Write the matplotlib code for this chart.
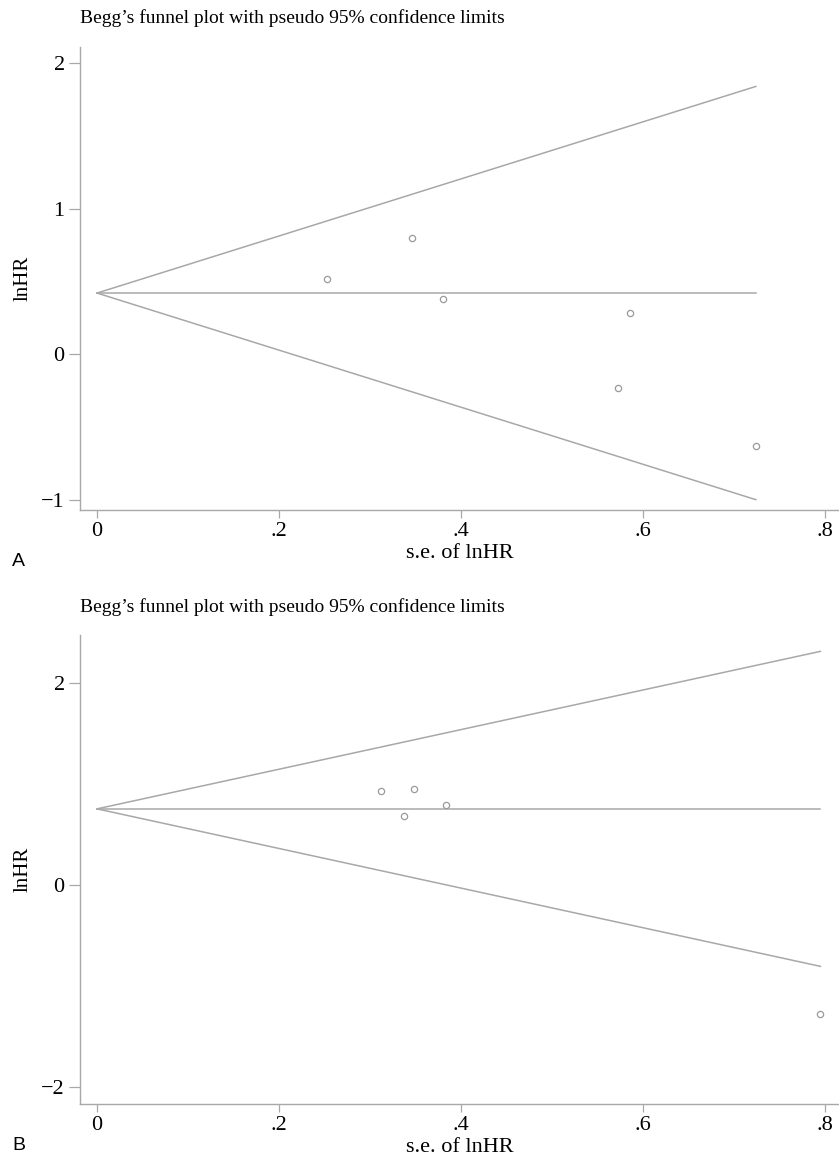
import matplotlib
matplotlib.use("Agg")
import matplotlib.pyplot as plt

# Panel A: study estimates (s.e. of lnHR, lnHR) and pooled lnHR
se_a = [0.253, 0.346, 0.380, 0.586, 0.573, 0.724]
lnhr_a = [0.52, 0.80, 0.38, 0.28, -0.23, -0.63]
pooled_a = 0.42

# Panel B
se_b = [0.312, 0.337, 0.348, 0.384, 0.795]
lnhr_b = [0.93, 0.68, 0.95, 0.79, -1.28]
pooled_b = 0.75

z = 1.96
xticks = [0, 0.2, 0.4, 0.6, 0.8]
xticklabels = ["0", ".2", ".4", ".6", ".8"]
yticks_a = [-1, 0, 1, 2]
yticks_b = [-2, 0, 2]

title = "Begg\u2019s funnel plot with pseudo 95% confidence limits"

W, H = 839, 1158
GRAY = "#a8a8a8"
MARK = "#9a9a9a"

plt.rcParams["font.family"] = ["Liberation Serif", "DejaVu Serif"]


def funnel(ax, se, lnhr, pooled, yticks, ylim):
    smax = max(se)
    # pseudo 95% limits and pooled estimate
    ax.plot([0, smax], [pooled, pooled + z * smax], color=GRAY, lw=1.1)
    ax.plot([0, smax], [pooled, pooled - z * smax], color=GRAY, lw=1.1)
    ax.plot([0, smax], [pooled, pooled], color=GRAY, lw=1.1)
    ax.plot(se, lnhr, "o", ms=4.5, mfc="none", mec=MARK, mew=0.9)

    ax.set_xlim(-0.0187, 0.8154)
    ax.set_ylim(*ylim)
    ax.set_xticks(xticks)
    ax.set_xticklabels(xticklabels)
    ax.set_yticks(yticks)
    ax.set_yticklabels([str(t).replace("-", "\u2212") for t in yticks])

    for side in ("top", "right"):
        ax.spines[side].set_visible(False)
    for side in ("left", "bottom"):
        ax.spines[side].set_color(GRAY)
        ax.spines[side].set_linewidth(1.0)

    ax.tick_params(axis="y", length=8, width=0.9, color=GRAY, pad=3,
                   labelsize=16, labelcolor="black")
    ax.tick_params(axis="x", length=6, width=0.9, color=GRAY, pad=3,
                   labelsize=16, labelcolor="black")
    ax.set_xlabel("s.e. of lnHR", fontsize=16, labelpad=2)
    ax.set_ylabel("lnHR", fontsize=15, labelpad=6)


fig = plt.figure(figsize=(W / 100, H / 100), dpi=100)

ax_a = fig.add_axes([80 / W, 1 - 510 / H, 759 / W, 463 / H])
funnel(ax_a, se_a, lnhr_a, pooled_a, yticks_a, (-1.07, 2.11))

ax_b = fig.add_axes([80 / W, 1 - 1104 / H, 759 / W, 469 / H])
funnel(ax_b, se_b, lnhr_b, pooled_b, yticks_b, (-2.17, 2.47))

fig.text(80 / W, 1 - 18 / H, title, fontsize=14, va="center", ha="left")
fig.text(80 / W, 1 - 607 / H, title, fontsize=14, va="center", ha="left")

fig.text(12 / W, 1 - 562 / H, "A", fontsize=14, family="Liberation Sans",
         va="center", ha="left")
fig.text(12 / W, 1 - 1146 / H, "B", fontsize=14, family="Liberation Sans",
         va="center", ha="left")

fig.savefig("out.png", dpi=100)
